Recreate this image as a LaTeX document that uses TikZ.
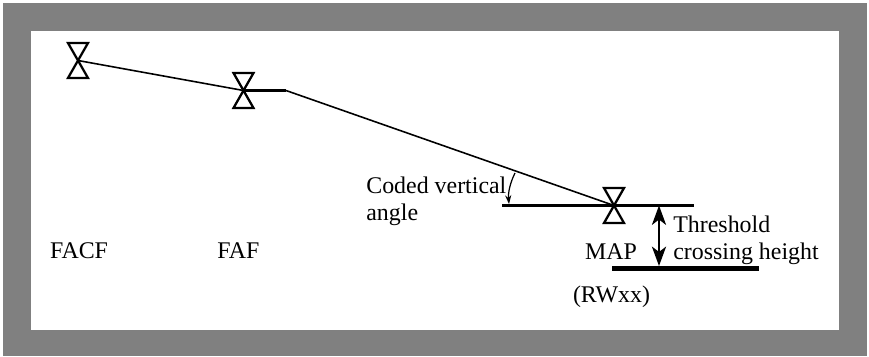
\documentclass[tikz,border=0pt]{standalone}
\usepackage{fontspec}
\setmainfont{Liberation Serif}
\usetikzlibrary{arrows.meta}
\definecolor{framegray}{RGB}{128,128,128}
\tikzset{
  fixlabel/.style={inner sep=0pt, font=\fontsize{13.6}{15.5}\selectfont},
  sidelabel/.style={fixlabel, align=left, anchor=west},
  fixmark/.style={line width=1.3pt, line join=miter},
  bigtip/.style={{Stealth[length=11pt,width=8pt,inset=3pt]}-{Stealth[length=11pt,width=8pt,inset=3pt]}, line width=1.4pt}
}
\begin{document}
\begin{tikzpicture}[x=.02cm,y=.02cm]
 \useasboundingbox (0,0) rectangle (869,356);
 \fill[white] (0,0) rectangle (869,356);
 \fill[framegray] (3,0) rectangle (867,353);
 \fill[white] (31,26) rectangle (839,325);

 \coordinate (facf) at (78,295.5);
 \coordinate (faf) at (243.5,265.5);
 \coordinate (map) at (614,150.5);
 \coordinate (bend) at (286,265.5);
 \coordinate (levelstart) at (502,150.5);
 \coordinate (levelend) at (694,150.5);
 \coordinate (rwystart) at (612,87.5);
 \coordinate (rwyend) at (759,87.5);
 \coordinate (tchtop) at (659,150.5);
 \coordinate (tchbot) at (659,90);
 \coordinate (anglefrom) at (515,183);
 \coordinate (angleto) at (509,152);

 % hourglass marks
 \foreach \f in {facf,faf,map}
 {
   \draw[fixmark] (\f) -- ++(-10,17.5) -- ++(20,0) -- ++(-20,-35) -- ++(20,0) -- cycle;
 }

 \draw[line width=.9pt] (facf) -- (faf);
 \draw[line width=1.4pt] (faf) -- (bend);
 \draw[line width=.9pt] (bend) -- (map);
 \draw[line width=1.4pt] (levelstart) -- (levelend);
 \draw[line width=3pt] (rwystart) -- (rwyend);
 \draw[bigtip] (tchtop) -- (tchbot);
 \draw[line width=.7pt, -{Stealth[length=5pt,width=3.5pt]}] (anglefrom) .. controls (510,173) and (508,163) .. (angleto);

 \node[fixlabel] (facflabel) at (79,105.5) {FACF};
 \node[fixlabel] (faflabel) at (238.5,105.5) {FAF};
 \node[fixlabel] (maplabel) at (611,104.5) {MAP};
 \node[fixlabel] (rwylabel) at (611.5,59) {(RWxx)};
 \node[sidelabel] (anglelabel) at (366,155) {Coded vertical\\angle};
 \node[sidelabel] (tchlabel) at (673,115.5) {Threshold\\crossing height};
\end{tikzpicture}
\end{document}
